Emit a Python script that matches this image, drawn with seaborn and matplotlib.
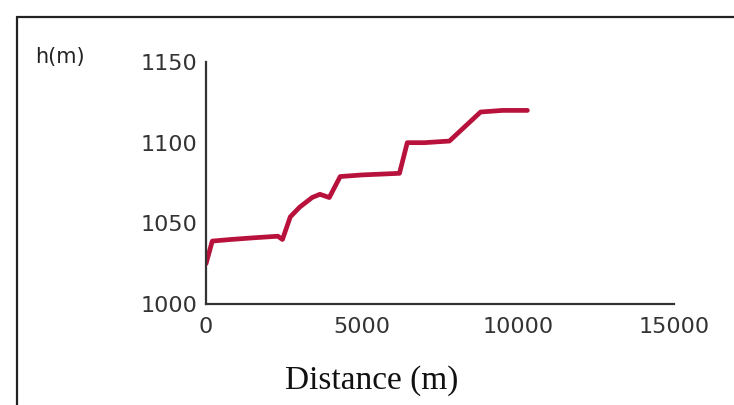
import matplotlib
matplotlib.use("Agg")
import matplotlib.pyplot as plt
import pandas as pd
import seaborn as sns
from matplotlib.lines import Line2D

# Elevation profile
distance = [0, 200, 800, 1500, 2300, 2450, 2700, 3000, 3400, 3650, 3950,
            4300, 5000, 6200, 6450, 7000, 7800, 8300, 8800, 9500, 10300]
height = [1025, 1039, 1040, 1041, 1042, 1040, 1054, 1060, 1066, 1068, 1066,
          1079, 1080, 1081, 1100, 1100, 1101, 1110, 1119, 1120, 1120]
x_ticks = [0, 5000, 10000, 15000]
y_ticks = [1000, 1050, 1100, 1150]

profile = pd.DataFrame({'Distance': distance, 'Height': height})

sns.set_theme(style="white")
plt.rcParams['font.family'] = ['DejaVu Sans']

fig = plt.figure(figsize=(7.34, 4.05), dpi=100)
ax = fig.add_axes([0.2807, 0.2494, 0.6376, 0.5975])

sns.lineplot(data=profile, x='Distance', y='Height', ax=ax,
             color='#b8123c', linewidth=3.4,
             solid_joinstyle='round', solid_capstyle='round')

ax.set_xlim(0, 15000)
ax.set_ylim(1000, 1150)
ax.set_xticks(x_ticks)
ax.set_yticks(y_ticks)
ax.set_xlabel('')
ax.set_ylabel('')

for side in ['top', 'right']:
    ax.spines[side].set_visible(False)
for side in ['left', 'bottom']:
    ax.spines[side].set_color('#333333')
    ax.spines[side].set_linewidth(1.6)

ax.tick_params(axis='both', direction='inout', length=7, width=1.2,
               color='#333333', labelcolor='#333333', labelsize=16)
ax.tick_params(axis='x', pad=6)
ax.tick_params(axis='y', pad=3)

# Frame around the chart (only top and left edges visible)
fig.add_artist(Line2D([17 / 734, 1.0], [1 - 17 / 405, 1 - 17 / 405],
                      transform=fig.transFigure, color='#222222', linewidth=1.6))
fig.add_artist(Line2D([17 / 734, 17 / 734], [0.0, 1 - 17 / 405],
                      transform=fig.transFigure, color='#222222', linewidth=1.6))

fig.text(35 / 734, 1 - 57 / 405, 'h(m)', fontsize=15, color='#222222',
         va='center', ha='left')
fig.text(372 / 734, 1 - 381 / 405, 'Distance (m)', fontsize=24,
         family='Liberation Serif', color='#111111', ha='center', va='center')

fig.savefig('out.png', dpi=100, facecolor='white')
